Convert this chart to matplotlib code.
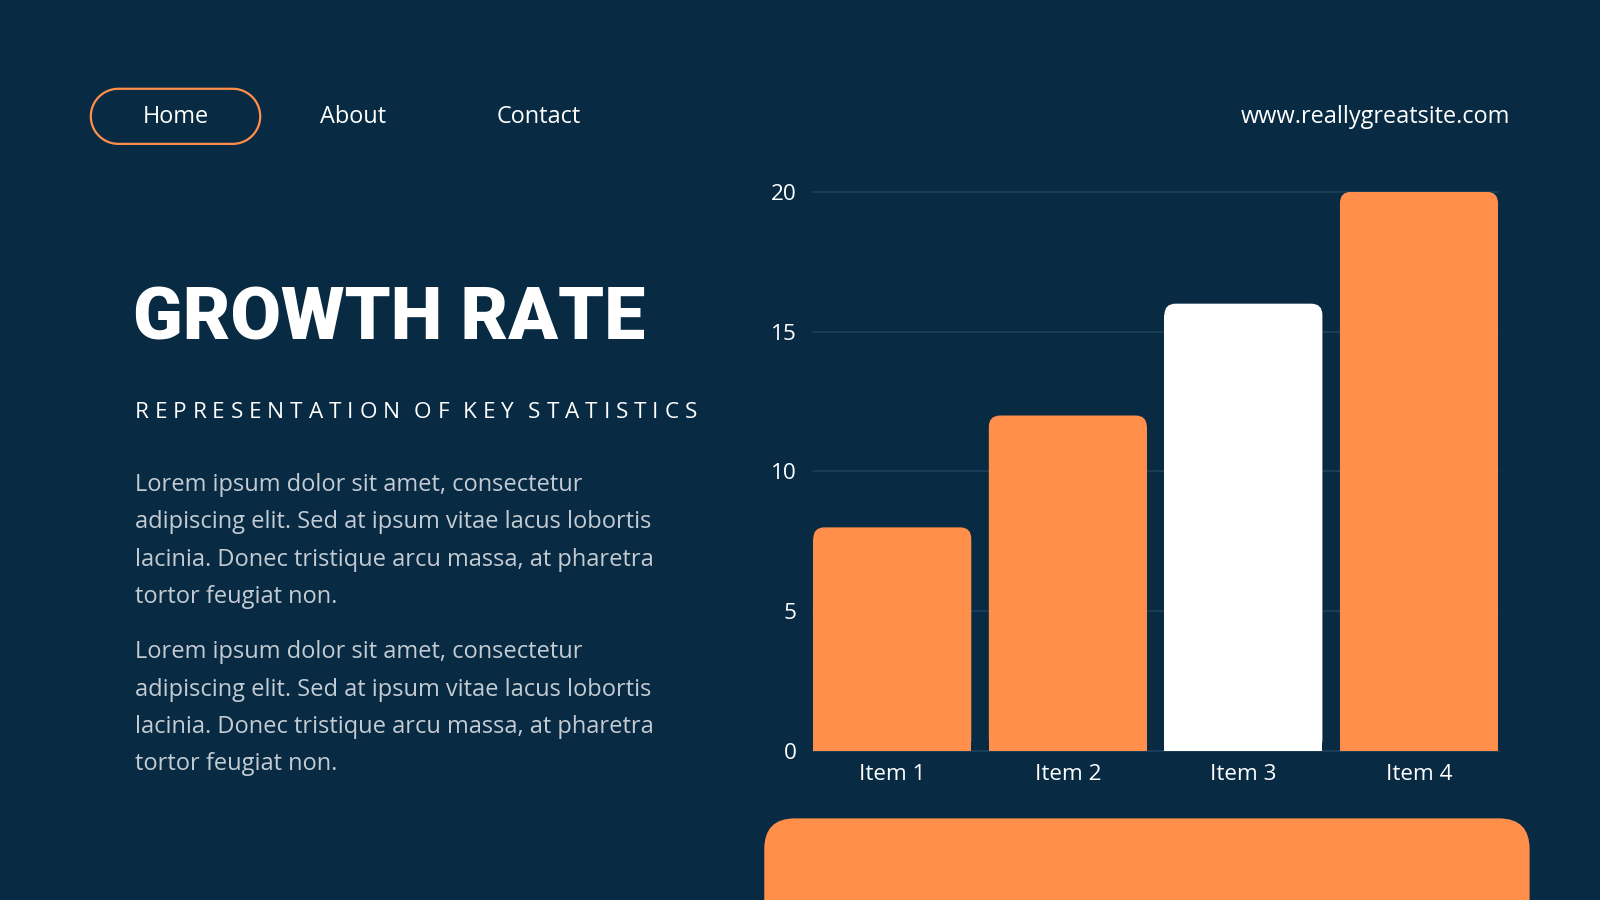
import numpy as np
import matplotlib.pyplot as plt
from matplotlib.patches import FancyBboxPatch, PathPatch
from matplotlib.path import Path

# chart data
items = ['Item 1', 'Item 2', 'Item 3', 'Item 4']
values = [8, 12, 16, 20]
y_ticks = [0, 5, 10, 15, 20]
highlight = 'Item 3'

# page text
nav_links = ['Home', 'About', 'Contact']
site = 'www.reallygreatsite.com'
title = 'GROWTH RATE'
subtitle = 'REPRESENTATION OF KEY STATISTICS'
paragraph = ['Lorem ipsum dolor sit amet, consectetur',
             'adipiscing elit. Sed at ipsum vitae lacus lobortis',
             'lacinia. Donec tristique arcu massa, at pharetra',
             'tortor feugiat non.']

BG = '#082a42'
ORANGE = '#ff8f4b'
GRID = '#1d425c'
BODY = '#c3cbd3'
FONT = 'Open Sans'

plt.rcParams['font.family'] = [FONT, 'DejaVu Sans']

W, H = 1568, 882  # layout units (reference pixels)
fig = plt.figure(figsize=(16, 9), dpi=100, facecolor=BG)
page = fig.add_axes([0, 0, 1, 1])
page.set_xlim(0, W)
page.set_ylim(H, 0)
page.axis('off')

px = 1600 / W  # output pixels per layout unit
def pt(size_px):
    return size_px * px * 72 / 100

def pill(x0, y0, w, h):
    # capsule outline with true semicircle ends
    r = h / 2
    t = np.linspace(-np.pi / 2, np.pi / 2, 40)
    right = np.column_stack([x0 + w - r + r * np.cos(t), y0 + r + r * np.sin(t)])
    left = np.column_stack([x0 + r - r * np.cos(t), y0 + r - r * np.sin(t)])
    verts = np.vstack([right, left, right[:1]])
    return Path(verts, closed=True)

# nav bar
page.add_patch(PathPatch(pill(89, 87, 166, 54), fc='none', ec=ORANGE, lw=1.6))
for label, cx in zip(nav_links, [172, 346, 528]):
    page.text(cx, 121, label, color='white', fontsize=pt(23),
              ha='center', va='baseline')
page.text(1480, 121, site, color='white', fontsize=pt(23),
          ha='right', va='baseline')

# title block
renderer = fig.canvas.get_renderer()
tt = page.text(130, 333, title, color='white', fontsize=pt(77),
               family=['Roboto', 'DejaVu Sans'], fontweight='black',
               ha='left', va='baseline')
tw = tt.get_window_extent(renderer).width / px
target = 500
if tw > target:
    tt.set_fontsize(pt(77) * max(target / tw, 0.93))

sub_size = pt(22)
widths = []
for ch in subtitle:
    t = page.text(0, 0, ch if ch != ' ' else 'I', fontsize=sub_size)
    w = t.get_window_extent(renderer).width / px
    t.remove()
    widths.append(w * 0.35 if ch == ' ' else w)
track = (683 - 132 - sum(widths)) / (len(subtitle) - 1)
x = 132
for ch, w in zip(subtitle, widths):
    if ch != ' ':
        page.text(x, 410, ch, color='white', fontsize=sub_size,
                  ha='left', va='baseline')
    x += w + track

for top in [481, 645]:
    for i, line in enumerate(paragraph):
        page.text(132, top + i * 36.6, line, color=BODY, fontsize=pt(23.2),
                  ha='left', va='baseline')

# bottom orange panel
page.add_patch(FancyBboxPatch((749, 802), 750, 200,
                              boxstyle='round,pad=0,rounding_size=30',
                              fc=ORANGE, ec='none', clip_on=True))

# bar chart
ax = fig.add_axes([797 / W, 1 - 736 / H, 671 / W, 548 / H])
ax.set_facecolor('none')
xs = list(range(len(items)))
colors = ['white' if it == highlight else ORANGE for it in items]
bars = ax.bar(xs, values, width=0.9, color=colors, zorder=2)
ax.set_xlim(-0.45, len(items) - 0.55)
ax.set_ylim(0, 20)

# rounded top corners
bbox = ax.get_window_extent(renderer)
ppx = bbox.width / (ax.get_xlim()[1] - ax.get_xlim()[0])
ppy = bbox.height / (ax.get_ylim()[1] - ax.get_ylim()[0])
r = 11 * px / ppx
for b, c in zip(bars, colors):
    x0, w, h = b.get_x(), b.get_width(), b.get_height()
    ry = r * ppx / ppy
    b.set_height(h - ry)
    ax.add_patch(FancyBboxPatch((x0, 0), w, h,
                                boxstyle=f'round,pad=0,rounding_size={r}',
                                mutation_aspect=ppx / ppy,
                                fc=c, ec='none', zorder=2))

ax.set_yticks(y_ticks)
ax.set_xticks(xs)
ax.set_xticklabels(items)
ax.grid(axis='y', color=GRID, lw=1.2, zorder=0)
for g in ax.get_ygridlines():
    g.set_clip_on(False)
for s in ax.spines.values():
    s.set_visible(False)
ax.tick_params(length=0, colors='white', labelsize=pt(22))
ax.tick_params(axis='y', pad=pt(16))
ax.tick_params(axis='x', pad=pt(13))

fig.savefig('out.png', dpi=100, facecolor=BG)
